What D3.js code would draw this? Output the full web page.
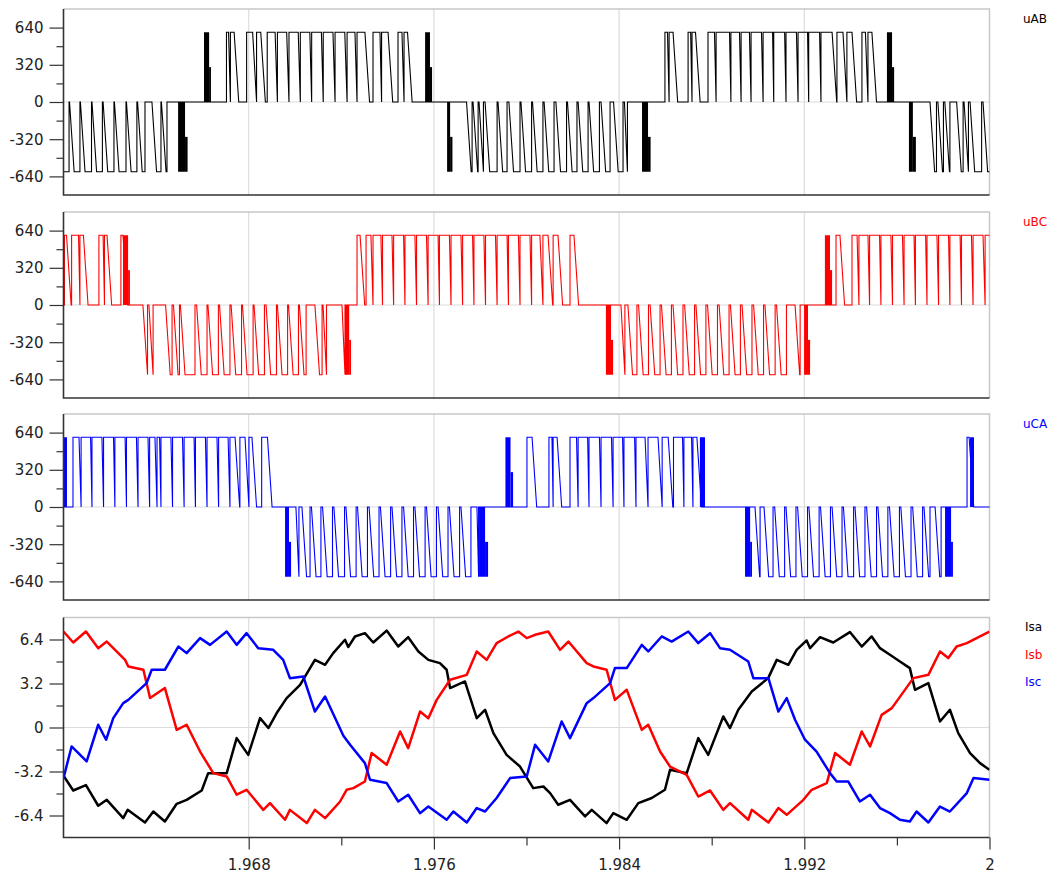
<!DOCTYPE html>
<html>
<head>
<meta charset="utf-8">
<script src="https://cdn.jsdelivr.net/npm/d3@7"></script>
<style>
  body { margin: 0; background: #fff; }
  svg { display: block; }
  text { font-family: "DejaVu Sans", Verdana, sans-serif; }
</style>
</head>
<body>
<div id="chart"></div>
<script>
// time is given in ms after t = 1.96 s
const T0 = 1.96;

// line voltages: pulse intervals [start, end] at +600 / -600, zero otherwise
const uabPos = [[7.04,7.13],[7.21,7.37],[7.91,8.17],[8.34,8.52],[8.80,9.14],[9.24,9.64],[9.74,10.14],[10.23,10.64],[10.72,11.14],[11.22,11.64],[11.73,12.15],[12.25,12.59],[12.68,13.02],[13.37,13.67],[13.74,14.02],[14.45,14.62],[14.71,14.86],
  [25.98,26.09],[26.16,26.33],[26.98,27.09],[27.15,27.30],[27.84,28.12],[28.19,28.77],[28.83,29.20],[29.27,29.63],[29.70,30.15],[30.22,30.63],[30.68,31.15],[31.21,31.66],[31.73,32.14],[32.19,32.66],[32.72,33.20],[33.41,33.67],[33.84,34.06],[34.49,34.64],[34.75,34.92]];
const uabNeg = [[-0.37,0.24],[0.26,0.71],[0.73,1.21],[1.23,1.68],[1.71,2.18],[2.20,2.70],[2.72,3.17],[3.20,3.52],[3.82,4.21],[4.23,4.47],
  [17.41,17.65],[17.69,17.91],[17.95,18.14],[18.21,18.73],[18.77,19.16],[19.24,19.72],[19.76,20.22],[20.26,20.71],[20.76,21.19],[21.27,21.73],[21.77,22.18],[22.23,22.66],[22.70,23.15],[23.22,23.61],[23.76,24.17],[24.23,24.36],
  [37.43,37.71],[37.77,38.01],[38.07,38.29],[38.58,38.86],[38.90,39.09],[39.16,39.66],[39.72,40.11]];
// fast chatter spans [start, end, low, high]
const uabBursts = [[4.95,5.25,-600,0],[5.25,5.36,-600,-300],[6.07,6.29,0,600],[6.29,6.37,0,300],
  [15.62,15.83,0,600],[15.83,15.92,0,300],[16.57,16.70,-600,0],[16.70,16.80,-600,-300],
  [24.99,25.25,-600,0],[25.25,25.36,-600,-300],[35.57,35.79,0,600],[35.79,35.88,0,300],
  [36.52,36.69,-600,0],[36.69,36.82,-600,-300]];

const ubcPos = [[0.04,0.13],[0.35,0.65],[0.71,0.86],[1.53,1.71],[1.77,1.88],[2.48,2.57],
  [12.68,12.81],[13.07,13.28],[13.37,13.71],[13.78,14.19],[14.26,14.69],[14.75,15.18],[15.25,15.68],[15.75,16.18],[16.24,16.67],[16.74,17.17],[17.24,17.67],[17.73,18.16],[18.23,18.66],[18.73,19.16],[19.22,19.65],[19.72,20.15],[20.22,20.58],[20.71,20.93],[21.15,21.36],[21.88,22.05],
  [33.37,33.54],[34.06,34.28],[34.36,34.75],[34.82,35.25],[35.31,35.74],[35.81,36.24],[36.31,36.74],[36.80,37.24],[37.30,37.73],[37.80,38.23],[38.29,38.73],[38.79,39.22],[39.29,39.72],[39.81,40.11]];
const ubcNeg = [[3.43,3.63],[3.69,3.87],[4.41,4.69],[4.75,5.01],[5.05,5.68],[5.75,6.20],[6.24,6.69],[6.74,7.19],[7.24,7.69],[7.73,8.19],[8.23,8.68],[8.75,9.20],[9.24,9.68],[9.72,10.15],[10.19,10.48],[10.86,11.17],[11.21,11.36],[12.03,12.16],
  [24.08,24.25],[24.38,24.77],[24.84,25.27],[25.34,25.77],[25.83,26.26],[26.33,26.76],[26.83,27.26],[27.32,27.75],[27.82,28.25],[28.32,28.75],[28.81,29.24],[29.31,29.74],[29.81,30.24],[30.30,30.74],[30.80,31.23],[31.60,31.82]];
const ubcBursts = [[2.57,2.79,0,600],[2.79,2.87,0,300],[12.16,12.34,-600,0],[12.34,12.42,-600,-300],
  [23.43,23.65,-600,0],[23.65,23.74,-600,-300],[31.99,32.16,-600,0],[32.16,32.25,-600,-300],
  [32.89,33.11,0,600],[33.11,33.20,0,300]];

const ucaPos = [[0.41,0.67],[0.76,1.17],[1.23,1.66],[1.73,2.16],[2.22,2.66],[2.72,3.15],[3.22,3.65],[3.72,3.95],[4.04,4.15],[4.21,4.64],[4.71,5.14],[5.21,5.64],[5.70,6.13],[6.20,6.63],[6.70,7.11],[7.19,7.41],[7.62,7.84],[8.01,8.14],[8.56,8.81],
  [20.02,20.24],[20.97,21.10],[21.15,21.32],[21.88,22.16],[22.23,22.64],[22.70,23.15],[23.22,23.67],[23.74,24.15],[24.21,24.67],[24.73,25.12],[25.25,25.68],[25.86,26.12],[26.35,26.74],[26.80,27.13],[27.19,27.36],
  [39.03,39.12]];
const ucaNeg = [[10.04,10.17],[10.30,10.65],[10.71,11.12],[11.19,11.62],[11.68,12.14],[12.20,12.64],[12.70,13.13],[13.20,13.63],[13.69,14.13],[14.19,14.62],[14.69,15.12],[15.18,15.62],[15.68,16.11],[16.18,16.61],[16.67,17.11],[17.17,17.60],[17.86,17.93],
  [29.87,30.09],[30.26,30.65],[30.72,31.15],[31.21,31.64],[31.71,32.14],[32.20,32.64],[32.70,33.13],[33.20,33.63],[33.69,34.13],[34.19,34.62],[34.69,35.12],[35.18,35.61],[35.68,36.11],[36.17,36.61],[36.68,37.11],[37.17,37.43],[37.65,37.91]];
const ucaBursts = [[-0.1,0.15,0,600],[9.57,9.74,-600,0],[9.74,9.83,-600,-300],[17.95,18.21,-600,0],[18.21,18.34,-600,-300],
  [19.09,19.31,0,600],[19.31,19.42,0,300],[27.49,27.71,0,600],[29.44,29.66,-600,0],[29.66,29.74,-600,-300],
  [38.08,38.34,-600,0],[38.34,38.42,-600,-300],[39.16,39.33,0,600]];

// phase currents [ms, A]
const isa = [[0,-3.5],[0.42,-4.58],[0.97,-4.19],[1.5,-5.69],[1.87,-5.26],[2.58,-6.59],[2.77,-5.99],[3.52,-6.91],[3.88,-6.11],[4.38,-6.84],[4.89,-5.55],[5.32,-5.26],[5.97,-4.58],[6.25,-3.32],[7.05,-3.32],[7.48,-0.77],[7.98,-1.99],[8.49,0.68],[8.85,-0.04],[9.21,1.05],[9.64,2.14],[10.22,3.1],[10.86,4.92],[11.3,4.56],[11.65,5.41],[12.16,6.38],[12.3,5.85],[12.59,6.62],[13.02,6.86],[13.38,6.18],[13.96,7.05],[14.46,5.89],[14.89,6.57],[15.33,5.53],[15.76,4.92],[16.26,4.68],[16.55,4.2],[16.7,2.87],[17.34,3.35],[17.85,0.68],[18.21,1.29],[18.57,-0.41],[19.14,-1.99],[19.72,-2.84],[20.29,-4.41],[20.73,-4.29],[21.02,-4.77],[21.37,-5.62],[21.88,-5.26],[22.53,-6.47],[22.82,-5.99],[23.46,-6.95],[23.75,-6.23],[24.33,-6.71],[24.83,-5.5],[25.41,-5.13],[25.98,-4.53],[26.2,-3.08],[26.92,-3.32],[27.42,-0.77],[27.85,-1.99],[28.5,0.8],[28.79,-0.04],[29.15,1.29],[29.73,2.62],[30.44,3.59],[30.81,4.92],[31.31,4.56],[31.67,5.65],[32.1,6.33],[32.25,5.77],[32.68,6.57],[33.25,6.18],[33.97,6.94],[34.48,5.89],[34.91,6.62],[35.27,5.77],[35.7,5.29],[36.13,4.8],[36.56,4.32],[36.78,2.74],[37.36,3.23],[37.86,0.44],[38.29,1.29],[38.65,-0.41],[39.16,-1.86],[39.59,-2.59],[40,-3.08]];
const isb = [[0,6.98],[0.42,6.18],[0.97,6.98],[1.5,5.77],[1.87,6.25],[2.66,4.92],[2.8,4.44],[3.45,4.2],[3.74,2.14],[4.38,2.87],[4.89,-0.17],[5.32,0.2],[5.9,-1.75],[6.47,-3.32],[7.05,-3.56],[7.48,-4.89],[7.91,-4.53],[8.63,-5.99],[8.92,-5.5],[9.57,-6.71],[9.78,-5.99],[10.51,-6.95],[10.86,-5.99],[11.3,-6.59],[11.94,-5.4],[12.23,-4.53],[12.52,-4.41],[13.02,-3.93],[13.31,-1.86],[13.96,-2.71],[14.54,-0.29],[14.89,-1.5],[15.4,1.16],[15.76,0.68],[16.12,2.01],[16.7,3.47],[17.42,3.83],[17.85,5.53],[18.28,4.92],[18.71,6.14],[19.21,6.62],[19.65,6.98],[20.01,6.5],[20.37,6.74],[20.94,6.98],[21.45,5.65],[21.81,6.25],[22.6,4.68],[22.89,4.44],[23.46,4.2],[23.82,2.01],[24.33,2.74],[24.98,-0.17],[25.26,0.2],[25.77,-1.75],[26.2,-2.84],[26.92,-3.44],[27.42,-5.02],[27.93,-4.58],[28.5,-5.99],[28.79,-5.5],[29.58,-6.71],[29.73,-5.99],[30.45,-6.91],[30.88,-5.86],[31.24,-6.35],[31.96,-5.26],[32.32,-4.53],[32.97,-4.04],[33.33,-1.86],[33.97,-2.71],[34.48,-0.29],[34.84,-1.38],[35.34,0.92],[35.78,1.41],[36.71,3.59],[37.36,3.83],[37.86,5.53],[38.22,5.05],[38.58,5.89],[39.02,6.14],[39.59,6.62],[40,6.98]];
const isc = [[0,-3.68],[0.35,-1.38],[1.0,-2.47],[1.5,0.2],[1.84,-0.89],[2.15,0.68],[2.58,1.77],[2.8,2.01],[3.59,3.23],[3.81,4.2],[4.38,4.2],[4.96,5.89],[5.32,5.41],[5.9,6.5],[6.33,6.01],[7.05,6.98],[7.48,6.01],[7.91,6.86],[8.41,5.77],[9.06,5.65],[9.49,4.92],[9.78,3.59],[10.36,3.71],[10.86,1.16],[11.3,2.25],[12.09,-0.6],[12.38,-1.26],[13.02,-2.59],[13.24,-3.8],[13.96,-4.04],[14.46,-5.38],[14.89,-4.89],[15.4,-6.23],[15.76,-5.75],[16.55,-6.71],[16.84,-6.11],[17.42,-6.91],[17.85,-5.86],[18.21,-6.11],[18.71,-5.13],[19.29,-3.68],[20.01,-3.56],[20.37,-1.26],[20.94,-2.47],[21.52,0.44],[21.88,-0.77],[22.6,1.77],[22.89,2.14],[23.61,3.23],[23.82,4.32],[24.33,4.32],[24.98,6.01],[25.26,5.53],[25.84,6.62],[26.27,6.25],[26.99,6.98],[27.42,6.14],[27.93,6.86],[28.36,5.77],[28.79,5.65],[29.58,4.8],[29.8,3.59],[30.45,3.59],[30.88,1.16],[31.24,2.14],[31.6,0.56],[32.03,-0.89],[32.53,-1.75],[33.11,-3.32],[33.4,-3.93],[33.9,-3.93],[34.4,-5.38],[34.84,-4.89],[35.27,-5.86],[35.7,-6.23],[36.13,-6.71],[36.56,-6.84],[36.85,-6.11],[37.36,-6.91],[37.86,-5.75],[38.29,-6.11],[39.02,-4.77],[39.31,-3.68],[40,-3.8]];

// axis ticks
const xMajor = [1.968, 1.976, 1.984, 1.992, 2];
const xMinor = [1.972, 1.98, 1.988, 1.996];
const vMajor = [-640, -320, 0, 320, 640];
const vMinor = [-480, -160, 160, 480];
const iMajor = [-6.4, -3.2, 0, 3.2, 6.4];
const iMinor = [-4.8, -1.6, 1.6, 4.8];

const width = 1057, height = 876;
const x = d3.scaleLinear().domain([1.96, 2]).range([63.5, 989.5]);
const svg = d3.select("#chart").append("svg").attr("width", width).attr("height", height);

// falling edges are drawn over one output step, rising edges are vertical
function pwmPoints(pos, neg) {
  const pulses = pos.map(p => [p[0], p[1], 600]).concat(neg.map(p => [p[0], p[1], -600]))
    .sort((a, b) => a[0] - b[0]);
  const ramp = 0.2;
  const pts = [[-1, 0]];
  pulses.forEach((p, i) => {
    const [s, e, L] = p;
    const next = i + 1 < pulses.length ? pulses[i + 1][0] : 41;
    if (L > 0) pts.push([s, 0], [s, L], [e, L], [Math.min(e + ramp, next), 0]);
    else pts.push([s, 0], [Math.min(s + ramp, e), L], [e, L], [e, 0]);
  });
  pts.push([41, 0]);
  return pts.map(([ms, v]) => [T0 + ms / 1000, v]);
}

function frame(g, y, top, bottom, maj, minr, fmt) {
  const [x0, x1] = x.range();
  g.selectAll(".vgrid").data(xMajor.filter(d => d < 2)).join("line")
    .attr("x1", d => x(d)).attr("x2", d => x(d)).attr("y1", top).attr("y2", bottom)
    .attr("stroke", "#dcdcdc").attr("stroke-width", 1.2);
  g.append("line").attr("x1", x0).attr("x2", x1).attr("y1", y(0)).attr("y2", y(0))
    .attr("stroke", "#dcdcdc").attr("stroke-width", 1.2);
  g.append("path").attr("d", `M${x0},${top}H${x1}V${bottom}`).attr("fill", "none")
    .attr("stroke", "#c8c8c8").attr("stroke-width", 1.5);
  const ax = g.append("g").attr("transform", `translate(${x0},0)`)
    .call(d3.axisLeft(y).tickValues(maj).tickSize(14).tickPadding(6).tickFormat(fmt));
  ax.select(".domain").remove();
  ax.selectAll("line").attr("stroke", "#333").attr("stroke-width", 1.2);
  ax.selectAll("text").attr("fill", "#222").style("font-size", "15px");
  const am = g.append("g").attr("transform", `translate(${x0},0)`)
    .call(d3.axisLeft(y).tickValues(minr).tickSize(7).tickFormat(""));
  am.select(".domain").remove();
  am.selectAll("line").attr("stroke", "#333").attr("stroke-width", 1.2);
}

const volts = [
  { name: "uAB", color: "#000", top: 9, pos: uabPos, neg: uabNeg, bursts: uabBursts },
  { name: "uBC", color: "#ff0000", top: 212, pos: ubcPos, neg: ubcNeg, bursts: ubcBursts },
  { name: "uCA", color: "#0000ff", top: 414, pos: ucaPos, neg: ucaNeg, bursts: ucaBursts }
];

volts.forEach((p, i) => {
  const top = p.top, bottom = top + 186;
  const y = d3.scaleLinear().domain([-800, 800]).range([bottom, top]);
  const g = svg.append("g");
  frame(g, y, top, bottom, vMajor, vMinor, d => String(d));
  const clipId = "clipv" + i;
  svg.append("clipPath").attr("id", clipId).append("rect")
    .attr("x", x(1.96)).attr("y", top).attr("width", x(2) - x(1.96)).attr("height", bottom - top);
  const plot = g.append("g").attr("clip-path", `url(#${clipId})`);
  const line = d3.line().x(d => x(d[0])).y(d => y(d[1]));
  plot.append("path").datum(pwmPoints(p.pos, p.neg)).attr("d", line)
    .attr("fill", "none").attr("stroke", p.color).attr("stroke-width", 1.1);
  plot.selectAll("rect.burst").data(p.bursts).join("rect").attr("class", "burst")
    .attr("x", d => x(T0 + d[0] / 1000)).attr("width", d => x(T0 + d[1] / 1000) - x(T0 + d[0] / 1000))
    .attr("y", d => y(d[3])).attr("height", d => y(d[2]) - y(d[3]))
    .attr("fill", p.color);
  g.append("path").attr("d", `M${x(1.96)},${top}V${bottom}H${x(2)}`).attr("fill", "none")
    .attr("stroke", "#333").attr("stroke-width", 1.6);
  g.append("text").attr("x", 1023).attr("y", top + 14).attr("fill", p.color)
    .style("font-size", "12px").text(p.name);
});

// currents panel
{
  const top = 617.5, bottom = 837.5;
  const y = d3.scaleLinear().domain([-8, 8]).range([bottom, top]);
  const g = svg.append("g");
  frame(g, y, top, bottom, iMajor, iMinor, d => String(d));
  svg.append("clipPath").attr("id", "clipi").append("rect")
    .attr("x", x(1.96)).attr("y", top).attr("width", x(2) - x(1.96)).attr("height", bottom - top);
  const plot = g.append("g").attr("clip-path", "url(#clipi)");
  const line = d3.line().x(d => x(T0 + d[0] / 1000)).y(d => y(d[1]));
  const series = [
    { name: "Isa", color: "#000", data: isa },
    { name: "Isb", color: "#ff0000", data: isb },
    { name: "Isc", color: "#0000ff", data: isc }
  ];
  series.forEach((s, i) => {
    plot.append("path").datum(s.data).attr("d", line).attr("fill", "none")
      .attr("stroke", s.color).attr("stroke-width", 2.5).attr("stroke-linejoin", "round");
    g.append("text").attr("x", 1025).attr("y", 631 + i * 27.5).attr("fill", s.color)
      .style("font-size", "12px").text(s.name);
  });
  g.append("path").attr("d", `M${x(1.96)},${top}V${bottom}H${x(2)}`).attr("fill", "none")
    .attr("stroke", "#333").attr("stroke-width", 1.6);
  const ax = g.append("g").attr("transform", `translate(0,${bottom})`)
    .call(d3.axisBottom(x).tickValues(xMajor).tickSize(12).tickPadding(10).tickFormat(d => String(+d.toFixed(3))));
  ax.select(".domain").remove();
  ax.selectAll("line").attr("stroke", "#333").attr("stroke-width", 1.2);
  ax.selectAll("text").attr("fill", "#222").style("font-size", "15px");
  const am = g.append("g").attr("transform", `translate(0,${bottom})`)
    .call(d3.axisBottom(x).tickValues(xMinor).tickSize(8).tickFormat(""));
  am.select(".domain").remove();
  am.selectAll("line").attr("stroke", "#333").attr("stroke-width", 1.2);
}
</script>
</body>
</html>
